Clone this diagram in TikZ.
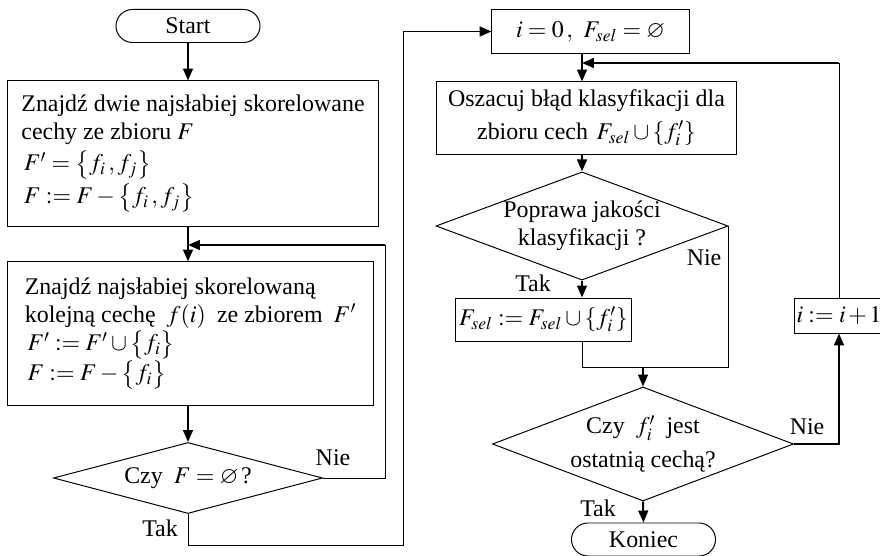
\documentclass[tikz,border=0pt]{standalone}
\usepackage{amssymb}
\usepackage{mathptmx}
\usepackage[no-math]{fontspec}
\setmainfont{Liberation Serif}
\usetikzlibrary{shapes.geometric,shapes.misc,arrows.meta}

\tikzset{
  proc/.style={draw, line width=0.7pt, rectangle, inner sep=0pt},
  decide/.style={draw, line width=0.7pt, diamond, inner sep=0pt, align=center},
  term/.style={draw, line width=0.7pt, rounded rectangle, minimum width=3.6cm, minimum height=0.825cm, inner sep=0pt},
  wire/.style={line width=0.7pt},
  flow/.style={line width=1.4pt, -{Triangle[length=8.5pt,width=7pt]}},
  lab/.style={inner sep=0pt}
}

\begin{document}
\begin{tikzpicture}[x=0.025cm, y=-0.025cm, font=\fontsize{17}{20}\selectfont]
\useasboundingbox (0,0) rectangle (880,556);
%left column
\node[term] (start) at (188,26) {Start};
\node[proc, minimum width=9.25cm, minimum height=3.625cm, align=left] (pair) at (193,153.5)
  {Znajdź dwie najsłabiej skorelowane\\ cechy ze zbioru $F$\\[2pt] $\,F'=\bigl\{f_i\,, f_j\bigr\}$\\[2pt] $\,F:=F-\bigl\{f_i\,, f_j\bigr\}$};
\node[proc, minimum width=9.125cm, minimum height=3.575cm, align=left] (next) at (190.5,333.5)
  {Znajdź najsłabiej skorelowaną\\ kolejną cechę $\;f(i)\;$ ze zbiorem $\;F'$\\ $\,F':=F'\cup\bigl\{f_i\bigr\}$\\ $\,F:=F-\bigl\{f_i\bigr\}$};
\node[decide, aspect=3.8, minimum width=6.725cm, minimum height=1.775cm] (empty) at (188,478) {Czy $\;F=\varnothing\,$?};
\coordinate (backL) at (385,245);
\coordinate (yesL) at (403,545);

%right column
\node[proc, minimum width=4.925cm, minimum height=1.075cm] (init) at (590.5,31.5) {$i=0\,,\;\,F_{sel}=\varnothing$};
\node[proc, minimum width=7.475cm, minimum height=1.8cm, align=center] (est) at (586.5,118)
  {Oszacuj błąd klasyfikacji dla\\[3pt] zbioru cech $\,F_{sel}\cup\{f_i'\}$};
\node[decide, aspect=2.7, minimum width=7.175cm, minimum height=2.65cm] (better) at (582,226) {Poprawa jakości\\ klasyfikacji ?};
\node[proc, minimum width=4.375cm, minimum height=1.075cm] (add) at (543.5,319.5) {$F_{sel}:=F_{sel}\cup\{f_i'\}$};
\node[decide, aspect=2.64, minimum width=7.525cm, minimum height=2.85cm] (last) at (643,444) {Czy $\;f_i'\;$ jest\\[4pt] ostatnią cechą?};
\node[proc, minimum width=2.25cm, minimum height=0.875cm] (incr) at (839,315.5) {$i:=i\,{+}\,1$};
\node[term] (stop) at (643.5,539.5) {Koniec};
\coordinate (joinR) at (582,63);
\coordinate (merge) at (582,367);

%left connectors
\draw[flow] (start.south) -- (start |- pair.north);
\draw[flow] (pair.south -| start) -- (next.north -| start);
\draw[flow] (next.south -| start) -- (empty.north);
\draw[wire] (empty.east) -| (backL);
\draw[flow] (backL) -- (backL -| start);
\node[lab] (nie1) at (333,458) {Nie};
\draw[wire] (empty.south) |- (yesL) -- (yesL |- init.west);
\draw[flow] (yesL |- init.west) -- (init.west);
\node[lab] (tak1) at (160,528) {Tak};

%right connectors
\draw[flow] (init.south -| better) -- (est.north -| better);
\draw[wire] (incr.north) -- (incr.north |- joinR);
\draw[flow] (incr.north |- joinR) -- (joinR);
\draw[flow] (est.south -| better) -- (better.north);
\draw[flow] (better.south) -- (add.north -| better);
\node[lab] (tak2) at (533,283) {Tak};
\draw[wire] (better.east) |- (merge) -- (add.south -| better);
\node[lab] (nie2) at (704,258) {Nie};
\draw[flow] (last.north |- merge) -- (last.north);
\draw[flow] (last.east) -| (incr.south);
\node[lab] (nie3) at (807,427) {Nie};
\draw[flow] (last.south) -- (stop.north);
\node[lab] (tak3) at (598,508) {Tak};
\end{tikzpicture}
\end{document}
